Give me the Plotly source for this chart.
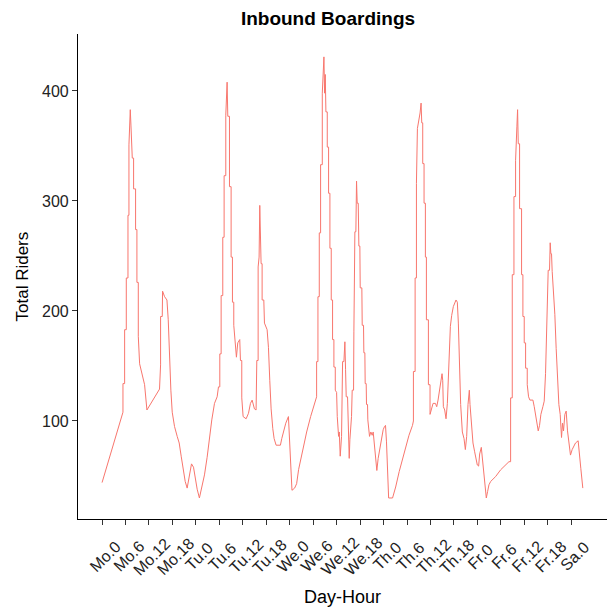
import plotly.graph_objects as go

# Hours since Monday 00:00 and total riders
hours = [
    0.0, 5.35, 5.35, 5.78, 5.78, 6.2, 6.2, 6.63, 6.63, 6.88, 6.88, 7.22, 7.39, 7.73, 8.07, 8.07,
    8.58, 8.58, 8.92, 8.92, 9.27, 9.27, 9.61, 10.29, 10.88, 11.48, 14.7, 14.97, 14.97, 15.4,
    15.48, 16.0, 16.6, 16.93, 17.18, 17.6, 17.95, 18.54, 19.22, 19.73, 20.24, 20.76, 21.27,
    21.77, 22.2, 22.88, 23.39, 23.82, 24.33, 24.9,
    25.52, 26.2, 26.88, 27.48, 28.07, 28.76, 29.44, 29.78, 30.12, 30.12, 30.46, 30.46, 30.88,
    30.88, 31.22, 31.22, 31.65, 31.65, 31.99, 32.16, 32.59, 32.59, 33.01, 33.01, 33.35, 33.35,
    33.69, 33.69, 34.03, 34.37, 34.71, 35.22, 35.4, 35.74, 35.74, 36.08, 36.85, 37.45, 37.96,
    38.39, 38.98, 39.4, 39.58, 39.92, 39.92, 40.17, 40.34, 40.51, 40.68, 40.94, 40.94, 41.37,
    41.54, 42.22, 42.56, 42.9, 43.24, 43.67, 44.01, 44.52, 45.62, 45.97, 46.48, 46.99, 47.67,
    47.9, 48.24, 48.58, 49.26, 49.77,
    50.28, 50.88, 51.3, 51.73, 52.33, 52.84, 53.35, 53.86, 54.37, 54.71, 54.88, 54.88, 55.22,
    55.22, 55.56, 55.56, 55.9, 55.9, 56.33, 56.33, 56.75, 56.92, 57.09, 57.26, 57.6, 57.6,
    57.94, 57.94, 58.28, 58.28, 58.62, 58.62, 58.96, 58.96, 59.3, 59.3, 59.65, 59.65, 59.99,
    60.16, 60.5, 60.67, 60.92, 61.26, 61.52, 61.86, 62.11, 62.28, 62.45, 62.79, 62.96, 63.22,
    63.39, 63.81, 63.98, 64.33, 64.41, 64.67, 64.92, 65.09, 65.26, 65.52, 65.69, 65.94, 66.03,
    66.45, 66.54, 66.88, 66.96, 67.22, 67.3, 67.56, 67.64, 67.9, 67.98, 68.41, 68.75, 69.09,
    69.35, 69.6, 69.86, 70.28, 70.62, 71.05, 71.47, 71.9, 72.24, 72.5, 72.75, 73.0, 73.3, 74.3,
    75.1, 76.0, 76.8, 77.7, 78.5, 79.4, 79.64, 79.64, 80.07, 80.07, 80.41, 80.41, 80.66, 81.34,
    81.6, 81.77, 82.02, 82.02, 82.36, 82.36, 82.7, 82.7, 82.96, 82.96, 83.47, 83.47, 83.89,
    83.89, 84.24, 84.66, 85.26, 85.6, 85.94, 86.28, 86.62, 86.96, 87.13, 87.3, 87.64, 87.98,
    88.32, 88.58, 88.83, 89.09, 89.43, 89.85, 90.53, 90.87, 91.13, 91.38, 91.72, 92.15, 92.58,
    92.92, 93.26, 93.6, 93.94, 94.11, 94.45, 94.87, 95.3, 95.98, 96.32, 96.58, 97.0, 97.26,
    97.6, 97.94, 98.28, 98.62, 98.96, 99.39, 100.67, 101.94, 104.07,
    104.5, 104.5, 104.92, 104.92, 105.35, 105.35, 105.77, 105.77, 106.11, 106.28, 106.45,
    106.79, 106.79, 107.3, 107.3, 107.64, 107.64, 107.98, 107.98, 108.33, 108.33, 108.75,
    108.75, 109.09, 109.43, 110.2, 110.54, 110.88, 111.22, 111.56, 111.9, 112.24, 112.75,
    113.09, 113.43, 113.77, 114.11, 114.45, 114.62, 114.79, 114.96, 115.13, 115.47, 115.81,
    116.15, 116.49, 116.84, 117.18, 117.52, 117.77, 118.03, 118.37, 118.71, 119.05, 119.39,
    119.81, 120.24, 121.09, 121.77, 122.11, 122.45, 122.96,
]
riders = [
    44, 108, 134, 134, 183, 183, 230, 230, 287, 287, 351, 383, 369, 339, 339, 311,
    311, 274, 274, 226, 226, 177, 152, 143, 133, 110, 129, 151, 195, 195,
    218, 213, 210, 192, 160, 128, 108, 95, 86, 80, 68, 54, 45,
    39, 49, 61, 58, 47, 38, 30,
    40, 51, 67, 86, 101, 116, 122, 131, 131, 161, 161, 214, 214,
    267, 267, 323, 323, 378, 408, 377, 377, 313, 313, 249, 249, 208,
    208, 187, 167, 158, 171, 174, 155, 155, 121, 104, 102, 107, 116,
    119, 111, 110, 155, 155, 240, 249, 296, 277, 243, 243, 210, 210,
    189, 183, 167, 137, 111, 93, 84, 78, 78, 84, 92, 98, 104,
    86, 53, 37, 39, 43,
    56, 65, 74, 80, 90, 98, 104, 110, 116, 122, 122, 154, 154,
    213, 213, 271, 271, 333, 333, 398, 431, 398, 415, 381, 381, 349,
    349, 307, 307, 257, 257, 210, 210, 174, 174, 149, 149, 128, 126,
    104, 86, 90, 68, 86, 154, 154, 172, 147, 122, 122, 86, 66,
    83, 104, 128, 128, 181, 272, 272, 318, 298, 298, 259, 259, 221,
    221, 187, 187, 162, 162, 134, 134, 115, 115, 101, 86, 90, 87,
    90, 82, 70, 55, 66, 76, 86, 92, 95, 96, 81, 46, 30, 30,
    40, 54, 65, 75, 87, 96, 100, 145, 145, 230, 230, 316, 366, 380,
    389, 371, 371, 334, 334, 298, 298, 249, 249, 192, 192, 133, 133,
    106, 110, 116, 116, 113, 119, 128, 137, 143, 137, 113, 110, 102,
    116, 142, 168, 186, 196, 204, 210, 208, 189, 151, 115, 90, 84,
    74, 86, 115, 128, 115, 95, 80, 72, 60, 59, 70, 76, 66,
    53, 45, 30, 36, 42, 45, 49.5, 55.6, 63,
    63, 121, 121, 233, 233, 304, 304, 337, 368, 383, 352,
    352, 293, 293, 233, 233, 195, 195, 171, 171, 148, 148, 133,
    122, 119, 119, 113, 106, 98, 91, 96, 106, 113,
    118, 143, 190, 237, 237, 262, 252, 252, 236, 218, 197,
    166, 139, 115, 106, 85, 98, 91, 106, 109, 91, 82,
    69, 74, 80, 82, 66, 57, 39,
]

tick_hours = list(range(0, 121, 6))
tick_labels = [
    "Mo.0", "Mo.6", "Mo.12", "Mo.18", "Tu.0", "Tu.6", "Tu.12", "Tu.18",
    "We.0", "We.6", "We.12", "We.18", "Th.0", "Th.6", "Th.12", "Th.18",
    "Fr.0", "Fr.6", "Fr.12", "Fr.18", "Sa.0",
]
y_ticks = [100, 200, 300, 400]

FONT = "Liberation Sans, Arial, sans-serif"

fig = go.Figure()
fig.add_trace(go.Scatter(
    x=hours, y=riders, mode="lines",
    line=dict(color="#F8766D", width=1),
    hoverinfo="skip", showlegend=False,
))

fig.update_layout(
    width=610, height=610,
    margin=dict(l=78, r=3, t=34, b=91, autoexpand=False),
    paper_bgcolor="white", plot_bgcolor="white",
    font=dict(family=FONT, color="#222222"),
    title=dict(
        text="<b>Inbound Boardings</b>",
        font=dict(family=FONT, size=19, color="black"),
        x=0.4726, xref="paper", xanchor="center",
        y=1 - 18 / 610, yref="container", yanchor="middle",
    ),
    showlegend=False,
)

fig.update_xaxes(
    range=[-6.15, 129.15],
    tickmode="array", tickvals=tick_hours, showticklabels=False,
    ticks="outside", ticklen=5, tickwidth=1, tickcolor="#333333",
    showline=True, linecolor="black", linewidth=1.2,
    showgrid=False, zeroline=False, automargin=False,
)
fig.update_yaxes(
    range=[10.9, 451.8],
    tickmode="array", tickvals=y_ticks,
    tickfont=dict(size=16, color="#222222"),
    ticks="outside", ticklen=5, tickwidth=1, tickcolor="#333333",
    showline=True, linecolor="black", linewidth=1.2,
    showgrid=False, zeroline=False, automargin=False,
)

# Rotated x tick labels, centred just below each tick (as in the reference)
for hv, lab in zip(tick_hours, tick_labels):
    fig.add_annotation(
        text=lab, textangle=-45,
        x=hv, xref="x", y=-(556 - 519) / 485, yref="paper",
        xanchor="center", yanchor="middle", xshift=3, showarrow=False,
        font=dict(family=FONT, size=16, color="#222222"),
    )

fig.add_annotation(
    text="Total Riders", textangle=-90,
    x=-(78 - 22) / 529, y=0.5, xref="paper", yref="paper",
    xanchor="center", yanchor="middle", showarrow=False,
    font=dict(family=FONT, size=17, color="black"),
)
fig.add_annotation(
    text="Day-Hour",
    x=0.5, y=-(597 - 519) / 485, xref="paper", yref="paper",
    xanchor="center", yanchor="middle", showarrow=False,
    font=dict(family=FONT, size=18, color="black"),
)

fig.write_html(
    "out.html",
    config={"displayModeBar": False},
    post_script="document.body.style.margin='0';document.body.style.padding='0';",
)
